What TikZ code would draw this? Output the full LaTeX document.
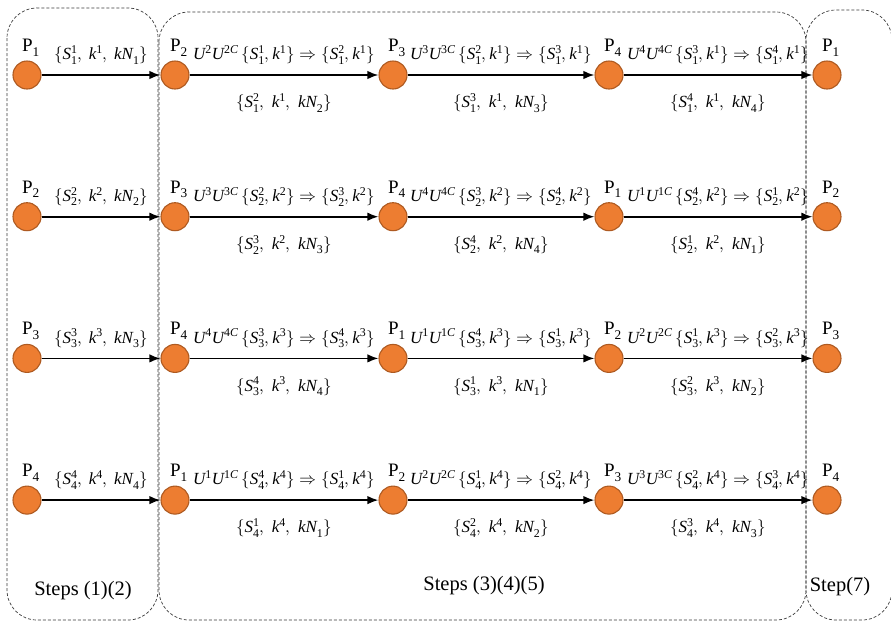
\documentclass[tikz,border=0pt]{standalone}
\usepackage{fontspec}
\usepackage{unicode-math}
\setmainfont{Liberation Serif}
\setmathfont{Latin Modern Math}
\setmathfont{Liberation Serif Italic}[range=it->up]
\setmathfont{Liberation Serif}[range=up/num]
\usetikzlibrary{arrows.meta}
\definecolor{procfill}{HTML}{ED7D31}
\definecolor{procedge}{HTML}{AE5A21}
\definecolor{framegray}{HTML}{3A3A3A}

\begin{document}
\begin{tikzpicture}[x=1pt,y=-1pt,
  proc/.style={circle, fill=procfill, draw=procedge, line width=1.1pt,
    minimum size=28pt, inner sep=0pt},
  plabel/.style={font=\fontsize{19}{21}\selectfont, anchor=south, inner sep=0pt},
  flow/.style={line width=1.8pt, -{Latex[length=11pt,width=8.5pt]}},
  toplab/.style={font=\fontsize{17}{18}\selectfont, inner sep=0pt, yshift=20pt},
  botlab/.style={font=\fontsize{17}{18}\selectfont, inner sep=0pt, yshift=-28pt},
  stage/.style={draw=framegray, line width=0.7pt, dash pattern=on 3pt off 2pt,
    rounded corners=30pt},
  stagename/.style={font=\fontsize{20.5}{22}\selectfont}
]
\useasboundingbox (0,0) rectangle (891,622);

% stage frames
\draw[stage] (7,8) rectangle (158,620);
\draw[stage] (159,12) rectangle (806,620);
\draw[stage] (806,10) rectangle (892,620);

\node[stagename] (s12) at (83,591) {Steps (1)(2)};
\node[stagename] (s345) at (484,586) {Steps (3)(4)(5)};
\node[stagename] (s7) at (840,587) {Step(7)};

% one ring of four processes per row
\foreach \r in {1,...,4} {
  \pgfmathsetmacro{\yy}{75+(\r-1)*141.7}
  \foreach \c/\xx in {1/27,2/175,3/393,4/609,5/827} {
    \pgfmathtruncatemacro{\p}{mod(\r+\c-2,4)+1}
    \node[proc] (n\r\c) at (\xx,\yy) {};
    \node[plabel] (l\r\c) at ([xshift=4pt,yshift=4pt]n\r\c.north) {P\textsubscript{\p}};
  }
  \draw[flow] (n\r1) -- node[toplab] {$\{S_{\r}^{\r},\:k^{\r},\:kN_{\r}\}$} (n\r2);
  \foreach \c in {2,3,4} {
    \pgfmathtruncatemacro{\p}{mod(\r+\c-2,4)+1}
    \pgfmathtruncatemacro{\q}{mod(\r+\c-3,4)+1}
    \pgfmathtruncatemacro{\nx}{\c+1}
    \draw[flow] (n\r\c) --
      node[toplab] {$U^{\p}U^{\p C}\,\{S_{\r}^{\q},k^{\r}\}\Rightarrow\{S_{\r}^{\p},k^{\r}\}$}
      node[botlab] {$\{S_{\r}^{\p},\;k^{\r},\;kN_{\p}\}$}
      (n\r\nx);
  }
}
\end{tikzpicture}
\end{document}
